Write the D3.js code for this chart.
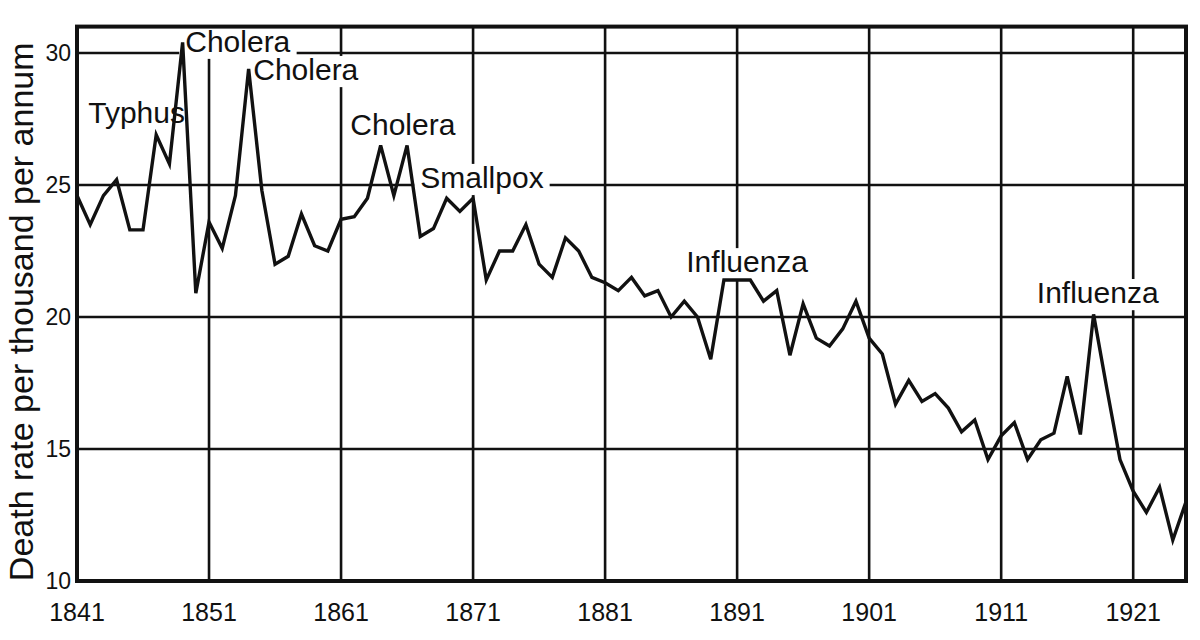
<!DOCTYPE html>
<html>
<head>
<meta charset="utf-8">
<script src="https://cdn.jsdelivr.net/npm/d3@7/dist/d3.min.js"></script>
<style>
  body { margin: 0; background: #ffffff; }
  svg { display: block; }
</style>
</head>
<body>
<svg id="chart" width="1200" height="640"></svg>
<script>
// ---------- data ----------
const years = [
  1841,1842,1843,1844,1845,1846,1847,1848,1849,1850,
  1851,1852,1853,1854,1855,1856,1857,1858,1859,1860,
  1861,1862,1863,1864,1865,1866,1867,1868,1869,1870,
  1871,1872,1873,1874,1875,1876,1877,1878,1879,1880,
  1881,1882,1883,1884,1885,1886,1887,1888,1889,1890,
  1891,1892,1893,1894,1895,1896,1897,1898,1899,1900,
  1901,1902,1903,1904,1905,1906,1907,1908,1909,1910,
  1911,1912,1913,1914,1915,1916,1917,1918,1919,1920,
  1921,1922,1923,1924,1925
];
const deathRates = [
  24.6,23.5,24.6,25.2,23.3,23.3,26.9,25.8,30.4,20.9,
  23.6,22.6,24.6,29.4,24.8,22.0,22.3,23.9,22.7,22.5,
  23.7,23.8,24.5,26.5,24.6,26.5,23.05,23.35,24.5,24.0,
  24.5,21.4,22.5,22.5,23.5,22.0,21.5,23.0,22.5,21.5,
  21.3,21.0,21.5,20.8,21.0,20.0,20.6,20.0,18.4,21.4,
  21.4,21.4,20.6,21.0,18.55,20.5,19.2,18.9,19.55,20.6,
  19.2,18.6,16.7,17.6,16.8,17.1,16.55,15.65,16.1,14.6,
  15.5,16.0,14.6,15.35,15.6,17.75,15.55,20.1,17.3,14.6,
  13.4,12.6,13.55,11.55,13.0
];
const yTickValues = [10, 15, 20, 25, 30];
const xTickValues = [1841, 1851, 1861, 1871, 1881, 1891, 1901, 1911, 1921];
const xTickLabels = ["1841", "1851", "1861", "1871", "1881", "1891", "1901", "1911", "1921"];
const annotationTexts = ["Typhus", "Cholera", "Cholera", "Cholera", "Smallpox", "Influenza", "Influenza"];
const annotationYears = [1841.85, 1849.2, 1854.35, 1861.7, 1867.0, 1887.15, 1913.7];
const annotationRates = [27.35, 30.05, 28.98, 26.9, 24.89, 21.7, 20.53];
const axisTitle = "Death rate per thousand per annum";

// ---------- setup ----------
const ink = "#111111";
const svg = d3.select("#chart");
const x = d3.scaleLinear().domain([1841, 1925]).range([77, 1186]);
const y = d3.scaleLinear().domain([10, 30]).range([581, 53]);
const yTop = 31;

const gridG = svg.append("g");
const knockG = svg.append("g");
const lineG = svg.append("g");
const frameG = svg.append("g");
const textG = svg.append("g");

// horizontal grid lines
gridG.selectAll("line.h")
  .data(yTickValues.filter(v => v > 10))
  .join("line")
  .attr("x1", x(1841)).attr("x2", x(1925))
  .attr("y1", d => y(d)).attr("y2", d => y(d))
  .attr("stroke", ink).attr("stroke-width", 2.6);

// vertical grid lines
gridG.selectAll("line.v")
  .data(xTickValues.filter(v => v > 1841))
  .join("line")
  .attr("x1", d => x(d)).attr("x2", d => x(d))
  .attr("y1", y(yTop)).attr("y2", y(10))
  .attr("stroke", ink).attr("stroke-width", 2.6);

// annotations (text first, then knock-out rects behind them)
const annFont = 30;
const ann = textG.selectAll("text.ann")
  .data(annotationTexts.map((t, i) => ({ t, yr: annotationYears[i], v: annotationRates[i] })))
  .join("text")
  .attr("class", "ann")
  .attr("x", d => x(d.yr))
  .attr("y", d => y(d.v))
  .attr("font-family", "'Liberation Sans', Arial, sans-serif")
  .attr("font-size", annFont)
  .attr("fill", ink)
  .text(d => d.t);

ann.each(function (d) {
  const bb = this.getBBox();
  const base = y(d.v);
  knockG.append("rect")
    .attr("x", bb.x - 6)
    .attr("width", bb.width + 12)
    .attr("y", base - annFont * 0.8)
    .attr("height", annFont * 0.8 + annFont * 0.24)
    .attr("fill", "#ffffff");
});

// data line
const line = d3.line()
  .x((d, i) => x(years[i]))
  .y(d => y(d));
lineG.append("path")
  .datum(deathRates)
  .attr("d", line)
  .attr("fill", "none")
  .attr("stroke", ink)
  .attr("stroke-width", 3.4)
  .attr("stroke-linejoin", "miter")
  .attr("stroke-miterlimit", 4);

// frame
frameG.append("rect")
  .attr("x", x(1841)).attr("y", y(yTop))
  .attr("width", x(1925) - x(1841))
  .attr("height", y(10) - y(yTop))
  .attr("fill", "none")
  .attr("stroke", ink)
  .attr("stroke-width", 4);

// y tick labels
textG.selectAll("text.yt")
  .data(yTickValues)
  .join("text")
  .attr("class", "yt")
  .attr("x", 71)
  .attr("y", d => y(d))
  .attr("dy", "0.36em")
  .attr("text-anchor", "end")
  .attr("font-family", "'Liberation Sans', Arial, sans-serif")
  .attr("font-size", 23)
  .attr("fill", ink)
  .text(d => d);

// x tick labels
textG.selectAll("text.xt")
  .data(xTickValues)
  .join("text")
  .attr("class", "xt")
  .attr("x", d => x(d))
  .attr("y", 621)
  .attr("text-anchor", "middle")
  .attr("font-family", "'Liberation Sans', Arial, sans-serif")
  .attr("font-size", 25)
  .attr("fill", ink)
  .text((d, i) => xTickLabels[i]);

// y axis title
textG.append("text")
  .attr("transform", `translate(33, ${(y(10) + y(yTop)) / 2 + 8}) rotate(-90)`)
  .attr("text-anchor", "middle")
  .attr("font-family", "'Liberation Sans', Arial, sans-serif")
  .attr("font-size", 34)
  .attr("fill", ink)
  .text(axisTitle);
</script>
</body>
</html>
